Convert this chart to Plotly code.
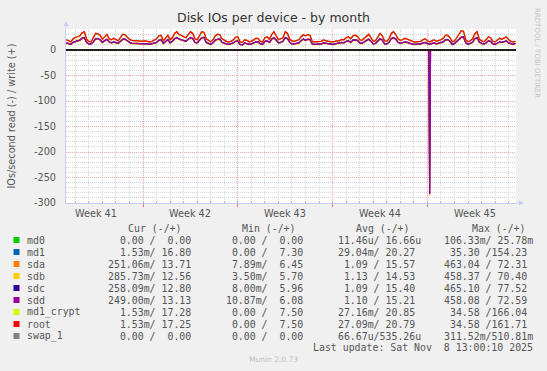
import plotly.graph_objects as go
import pandas as pd

# ---------------- data ----------------
TITLE = "Disk IOs per device - by month"
Y_TITLE = "IOs/second read (-) / write (+)"
names = ["md0", "md1", "sda", "sdb", "sdc", "sdd", "md1_crypt", "root", "swap_1"]
colors = ["#00CC00", "#0066B3", "#FF8000", "#FFCC00", "#330099", "#990099", "#CCFF00", "#FF0000", "#808080"]

X_START = "2025-10-06 07:30"
X_END = "2025-11-08 13:00"
WRITE_START = "2025-10-06 08:00"   # 4-hourly samples

root_write = [
    20, 18, 16, 22,
    25, 26, 28, 34, 36, 21,
    17, 16, 24, 33, 32, 29,
    21, 27, 31, 22, 20, 23,
    20, 18, 25, 31, 30, 26,
    21, 19, 19, 19, 18, 17,
    18, 18, 17, 16, 17, 19,
    22, 28, 29, 18, 24, 29,
    20, 24, 33, 36, 30, 29,
    26, 24, 30, 36, 33, 22,
    20, 28, 36, 35, 22, 19,
    16, 20, 28, 31, 30, 22,
    19, 17, 16, 17, 20, 25,
    26, 16, 15, 20, 19, 16,
    17, 20, 23, 23, 17, 16,
    24, 26, 21, 30, 36, 28,
    20, 22, 24, 36, 33, 21,
    18, 17, 18, 20, 26, 30,
    28, 30, 29, 17, 16, 16,
    16, 17, 20, 18, 17, 16,
    16, 17, 18, 18, 21, 20,
    24, 26, 22, 28, 29, 27,
    20, 19, 23, 28, 31, 24,
    17, 18, 26, 33, 28, 18,
    17, 22, 33, 36, 30, 22,
    19, 20, 23, 21, 19, 17,
    16, 16, 16, 17, 20, 22,
    18, 16, 18, 20, 17, 18,
    20, 23, 29, 29, 24, 16,
    18, 24, 32, 38, 37, 20,
    16, 18, 22, 32, 36, 21,
    18, 16, 20, 26, 24, 17,
    16, 20, 23, 21, 24, 26,
    20, 17, 16, 17,
]
md1_crypt_write = [
    20, 18, 16, 21,
    25, 26, 27, 34, 35, 21,
    17, 16, 24, 32, 32, 28,
    21, 26, 31, 22, 20, 22,
    20, 18, 24, 31, 30, 26,
    21, 19, 18, 19, 18, 17,
    18, 17, 17, 16, 17, 19,
    22, 27, 29, 18, 24, 28,
    20, 24, 32, 36, 30, 28,
    26, 24, 30, 35, 33, 22,
    20, 27, 36, 34, 22, 19,
    16, 20, 27, 31, 30, 22,
    19, 17, 16, 17, 19, 25,
    25, 16, 15, 20, 19, 16,
    17, 19, 23, 23, 17, 16,
    24, 25, 21, 30, 35, 28,
    20, 22, 24, 35, 33, 21,
    18, 17, 18, 20, 25, 30,
    28, 29, 29, 17, 16, 16,
    16, 17, 19, 18, 17, 16,
    16, 17, 18, 18, 20, 20,
    24, 25, 22, 28, 29, 26,
    20, 19, 23, 27, 31, 24,
    17, 18, 26, 32, 28, 18,
    17, 22, 32, 36, 30, 22,
    19, 20, 22, 21, 19, 17,
    16, 16, 16, 17, 19, 22,
    18, 16, 18, 20, 17, 18,
    20, 23, 28, 29, 24, 16,
    18, 24, 32, 37, 37, 20,
    16, 18, 22, 32, 35, 21,
    18, 16, 20, 25, 24, 17,
    16, 20, 23, 21, 24, 25,
    20, 17, 16, 17,
]
md1_write = [
    20, 18, 16, 21,
    25, 26, 27, 33, 35, 21,
    17, 16, 24, 32, 31, 28,
    21, 26, 30, 22, 20, 22,
    20, 18, 24, 30, 30, 26,
    21, 19, 18, 19, 18, 17,
    18, 17, 17, 16, 17, 19,
    22, 27, 28, 18, 24, 28,
    20, 24, 32, 35, 30, 28,
    26, 24, 30, 35, 32, 22,
    20, 27, 35, 34, 22, 19,
    16, 20, 27, 30, 30, 22,
    19, 17, 16, 17, 19, 25,
    25, 16, 15, 20, 19, 16,
    17, 19, 23, 22, 17, 16,
    24, 25, 21, 30, 35, 28,
    20, 22, 24, 35, 32, 21,
    18, 17, 18, 20, 25, 29,
    28, 29, 28, 17, 16, 16,
    16, 17, 19, 18, 17, 16,
    16, 17, 18, 18, 20, 20,
    24, 25, 22, 27, 29, 26,
    20, 19, 23, 27, 30, 24,
    17, 18, 26, 32, 28, 18,
    17, 22, 32, 35, 30, 22,
    19, 20, 22, 21, 19, 17,
    16, 16, 16, 17, 19, 22,
    18, 16, 18, 20, 17, 18,
    20, 23, 28, 28, 24, 16,
    18, 24, 31, 37, 36, 20,
    16, 18, 22, 31, 35, 21,
    18, 16, 20, 25, 24, 17,
    16, 20, 23, 21, 24, 25,
    20, 17, 16, 17,
]
sdd_write = [
    14, 13, 11, 15,
    17, 18, 19, 23, 24, 15,
    12, 12, 16, 22, 22, 20,
    15, 18, 21, 16, 14, 16,
    14, 13, 17, 21, 21, 18,
    15, 13, 13, 13, 13, 12,
    13, 13, 12, 11, 12, 13,
    15, 19, 20, 13, 17, 20,
    14, 17, 22, 24, 21, 20,
    18, 17, 21, 24, 22, 15,
    14, 19, 24, 24, 15, 13,
    11, 14, 19, 21, 21, 15,
    13, 12, 11, 12, 14, 17,
    18, 11, 10, 14, 13, 11,
    12, 14, 16, 16, 12, 11,
    17, 18, 15, 21, 24, 19,
    14, 15, 17, 24, 22, 15,
    12, 12, 13, 14, 18, 21,
    19, 21, 20, 12, 11, 11,
    11, 12, 14, 13, 12, 11,
    11, 12, 13, 13, 15, 14,
    17, 18, 15, 19, 20, 19,
    14, 13, 16, 19, 21, 17,
    12, 13, 18, 22, 19, 12,
    12, 15, 22, 24, 21, 15,
    13, 14, 16, 15, 13, 12,
    11, 11, 11, 12, 14, 15,
    13, 11, 13, 14, 12, 13,
    14, 16, 20, 20, 17, 11,
    13, 17, 22, 25, 25, 14,
    11, 13, 15, 22, 24, 15,
    13, 11, 14, 18, 17, 12,
    11, 14, 16, 15, 17, 18,
    14, 12, 11, 13,
]
sda_write = [
    14, 13, 12, 15,
    17, 18, 20, 23, 25, 15,
    12, 12, 16, 23, 22, 20,
    15, 19, 21, 16, 14, 16,
    14, 13, 17, 22, 21, 18,
    15, 13, 13, 14, 13, 12,
    13, 13, 12, 11, 12, 14,
    15, 19, 21, 13, 17, 20,
    14, 17, 23, 25, 21, 20,
    18, 17, 21, 25, 22, 15,
    14, 19, 25, 24, 15, 13,
    11, 14, 20, 21, 21, 15,
    13, 12, 11, 12, 14, 18,
    18, 11, 10, 14, 13, 11,
    12, 14, 16, 17, 12, 11,
    17, 18, 15, 22, 25, 19,
    14, 15, 17, 25, 22, 15,
    12, 12, 13, 14, 18, 21,
    19, 22, 20, 12, 11, 11,
    11, 12, 14, 13, 12, 11,
    11, 12, 13, 13, 15, 14,
    17, 19, 15, 19, 21, 19,
    14, 13, 16, 20, 22, 17,
    12, 13, 18, 23, 19, 12,
    12, 15, 23, 25, 21, 15,
    13, 14, 16, 15, 13, 12,
    11, 11, 11, 12, 14, 15,
    13, 11, 13, 14, 12, 13,
    14, 16, 21, 20, 17, 11,
    13, 17, 23, 26, 25, 14,
    11, 13, 15, 23, 25, 15,
    13, 11, 14, 18, 17, 12,
    11, 14, 16, 15, 17, 18,
    14, 12, 11, 14,
]
sdb_write = [
    13, 12, 10, 14,
    16, 17, 18, 22, 23, 14,
    11, 11, 15, 21, 21, 19,
    14, 17, 20, 15, 13, 15,
    13, 12, 16, 20, 20, 17,
    14, 12, 12, 12, 12, 11,
    12, 12, 11, 10, 11, 12,
    14, 18, 19, 12, 16, 19,
    13, 16, 21, 23, 20, 19,
    17, 16, 20, 23, 21, 14,
    13, 18, 23, 23, 14, 12,
    10, 13, 18, 20, 20, 14,
    12, 11, 10, 11, 13, 16,
    17, 10, 9, 13, 12, 10,
    11, 13, 15, 15, 11, 10,
    16, 17, 14, 20, 23, 18,
    13, 14, 16, 23, 21, 14,
    11, 11, 12, 13, 17, 20,
    18, 20, 19, 11, 10, 10,
    10, 11, 13, 12, 11, 10,
    10, 11, 12, 12, 14, 13,
    16, 17, 14, 18, 19, 18,
    13, 12, 15, 18, 20, 16,
    11, 12, 17, 21, 18, 11,
    11, 14, 21, 23, 20, 14,
    12, 13, 15, 14, 12, 11,
    10, 10, 10, 11, 13, 14,
    12, 10, 12, 13, 11, 12,
    13, 15, 19, 19, 16, 10,
    12, 16, 21, 24, 24, 13,
    10, 12, 14, 21, 23, 14,
    12, 10, 13, 17, 16, 11,
    10, 13, 15, 14, 16, 17,
    13, 11, 10, 13,
]
sdc_write = [
    14, 13, 11, 15,
    17, 18, 19, 24, 24, 15,
    12, 12, 16, 22, 23, 20,
    15, 18, 21, 16, 14, 16,
    14, 13, 17, 21, 22, 18,
    15, 13, 13, 13, 13, 12,
    13, 13, 12, 11, 12, 13,
    15, 19, 20, 13, 17, 21,
    14, 17, 22, 24, 22, 20,
    18, 17, 21, 24, 23, 15,
    14, 19, 24, 25, 15, 13,
    11, 14, 19, 21, 22, 15,
    13, 12, 11, 12, 14, 17,
    18, 11, 10, 14, 13, 11,
    12, 14, 16, 16, 12, 11,
    17, 18, 15, 21, 24, 20,
    14, 15, 17, 24, 23, 15,
    12, 12, 13, 14, 18, 22,
    19, 21, 21, 12, 11, 11,
    11, 12, 14, 13, 12, 11,
    11, 12, 13, 13, 15, 14,
    17, 18, 15, 20, 20, 19,
    14, 13, 16, 19, 21, 17,
    12, 13, 18, 22, 20, 12,
    12, 15, 22, 24, 22, 15,
    13, 14, 16, 15, 13, 12,
    11, 11, 11, 12, 14, 15,
    13, 11, 13, 14, 12, 13,
    14, 16, 20, 21, 17, 11,
    13, 17, 22, 25, 26, 14,
    11, 13, 15, 22, 24, 16,
    13, 11, 14, 18, 17, 12,
    11, 14, 16, 15, 17, 18,
    14, 12, 11, 13,
]

# read side (sparse samples; ~0 except the Nov 2 burst)
read_times = ["2025-10-06 07:30", "2025-11-02 02:30", "2025-11-02 04:00",
              "2025-11-02 05:30", "2025-11-08 13:00"]
md0_read = [0, 0, 0, 0, 0]
md1_read = [0, 0, -1, 0, 0]
sda_read = [-0.3, -0.3, -285, -0.3, -0.25]
sdb_read = [-0.3, -0.3, -279, -0.3, -0.29]
sdc_read = [-0.3, -0.3, -282, -0.3, -0.26]
sdd_read = [-0.3, -0.3, -281, -0.3, -0.25]
md1_crypt_read = [0, 0, -1, 0, 0]
root_read = [0, 0, -1, 0, 0]
swap_read = [0, 0, 0, 0, 0]
md0_write = [0, 0, 0, 0, 0]
swap_write = [0, 0, 0, 0, 0]

week_bounds = ["2025-10-12", "2025-10-19", "2025-10-26", "2025-11-02"]
week_label_pos = ["2025-10-08 12:00", "2025-10-15 12:00", "2025-10-22 12:00",
                  "2025-10-29 12:00", "2025-11-05 12:00"]
week_labels = ["Week 41", "Week 42", "Week 43", "Week 44", "Week 45"]
y_ticks = [0, -50, -100, -150, -200, -250, -300]

cur_read = ["0.00", "1.53m", "251.06m", "285.73m", "258.09m", "249.00m", "1.53m", "1.53m", "0.00"]
cur_write = ["0.00", "16.80", "13.71", "12.56", "12.80", "13.13", "17.28", "17.25", "0.00"]
min_read = ["0.00", "0.00", "7.89m", "3.50m", "8.00m", "10.87m", "0.00", "0.00", "0.00"]
min_write = ["0.00", "7.30", "6.45", "5.70", "5.96", "6.08", "7.50", "7.50", "0.00"]
avg_read = ["11.46u", "29.04m", "1.09", "1.13", "1.09", "1.10", "27.16m", "27.09m", "66.67u"]
avg_write = ["16.66u", "20.27", "15.57", "14.53", "15.40", "15.21", "20.85", "20.79", "535.26u"]
max_read = ["106.33m", "35.30", "463.04", "458.37", "465.10", "458.08", "34.58", "34.58", "311.52m"]
max_write = ["25.78m", "154.23", "72.31", "70.40", "77.52", "72.59", "166.04", "161.71", "510.81m"]
col_headers = ["Cur (-/+)", "Min (-/+)", "Avg (-/+)", "Max (-/+)"]
LAST_UPDATE = "Last update: Sat Nov  8 13:00:10 2025"
FOOTER = "Munin 2.0.73"
WATERMARK = "RRDTOOL / TOBI OETIKER"

# ---------------- figure ----------------
W, H = 547, 371
L, R, T, B = 66, 516, 29, 203
Y_MIN, Y_MAX = -300, 41.2

def px_x(px):
    return (px - L) / (R - L)

def px_y(py):
    return (B - py) / (B - T)

write_x = pd.date_range(WRITE_START, periods=len(root_write), freq="4h")
writes = {
    "md0": (read_times, md0_write),
    "md1": (write_x, md1_write),
    "sda": (write_x, sda_write),
    "sdb": (write_x, sdb_write),
    "sdc": (write_x, sdc_write),
    "sdd": (write_x, sdd_write),
    "md1_crypt": (write_x, md1_crypt_write),
    "root": (write_x, root_write),
    "swap_1": (read_times, swap_write),
}
reads = {
    "md0": md0_read, "md1": md1_read, "sda": sda_read, "sdb": sdb_read,
    "sdc": sdc_read, "sdd": sdd_read, "md1_crypt": md1_crypt_read,
    "root": root_read, "swap_1": swap_read,
}

fig = go.Figure()
for n, c in zip(names, colors):
    fig.add_trace(go.Scatter(x=read_times, y=reads[n], mode="lines",
                             line=dict(color=c, width=1.2), hoverinfo="skip", showlegend=False))
    wx, wy = writes[n]
    fig.add_trace(go.Scatter(x=wx, y=wy, mode="lines",
                             line=dict(color=c, width=1.2), hoverinfo="skip", showlegend=False))

AXIS_COL = "#C8CCF4"
MGRID = "#F2A6A6"
GRID = "#D6D6D6"
TXT = "#555555"
SANS = "DejaVu Sans"
MONO = "DejaVu Sans Mono"

fig.update_layout(
    width=W, height=H,
    margin=dict(l=L, r=W - R, t=T, b=H - B, pad=0),
    paper_bgcolor="#F0F0F0", plot_bgcolor="#FFFFFF",
    showlegend=False, hovermode=False,
    xaxis=dict(
        type="date", range=[X_START, X_END],
        tickmode="array", tickvals=week_bounds, showticklabels=False,
        ticks="outside", ticklen=3, tickcolor="#E87070", tickwidth=1,
        showgrid=True, gridcolor=MGRID, griddash="1px,1px", gridwidth=1,
        showline=True, linecolor=AXIS_COL, linewidth=1, zeroline=False,
        minor=dict(tickmode="linear", tick0="2025-10-12", dtick=86400000,
                   showgrid=True, gridcolor=GRID, griddash="1px,1px", gridwidth=1,
                   ticks="inside", ticklen=2, tickcolor="#B0B0B0"),
    ),
    yaxis=dict(
        range=[Y_MIN, Y_MAX],
        tickmode="array", tickvals=y_ticks, ticktext=[str(v) for v in y_ticks],
        ticks="", tickfont=dict(family=SANS, size=9.7, color=TXT),
        ticklabelstandoff=7,
        showgrid=True, gridcolor=MGRID, griddash="1px,1px", gridwidth=1,
        showline=True, linecolor=AXIS_COL, linewidth=1, zeroline=False,
        minor=dict(tickmode="linear", tick0=0, dtick=10,
                   showgrid=True, gridcolor=GRID, griddash="1px,1px", gridwidth=1),
    ),
)

shapes = [dict(type="line", xref="paper", x0=0, x1=1, yref="y", y0=0, y1=0,
               line=dict(color="#000000", width=1.6), layer="above")]
ann = []

def text_ann(txt, x, y, size, color=TXT, family=SANS, xanchor="center", angle=0):
    ann.append(dict(text=txt.replace(" ", "\u00a0"), x=px_x(x), y=px_y(y), xref="paper", yref="paper",
                    showarrow=False, xanchor=xanchor, yanchor="middle", textangle=angle,
                    borderpad=0, font=dict(family=family, size=size, color=color)))

# title, axis title, watermarks
text_ann(TITLE, 273.5, 18, 12.5, color="#333333")
text_ann(Y_TITLE, 10.5, 116, 9.7, angle=-90)
text_ann(WATERMARK, 537, 53, 7, color="#C4C4C4", angle=90)
text_ann(FOOTER, 273, 359, 7.5, color="#BDBDBD")

# week labels placed through the x scale
for pos, lab in zip(week_label_pos, week_labels):
    ann.append(dict(text=lab, x=pos, xref="x", y=px_y(213), yref="paper", showarrow=False,
                    xanchor="center", yanchor="middle", borderpad=0,
                    font=dict(family=SANS, size=9.7, color=TXT)))

# axis arrows
ann.append(dict(text="", x=px_x(L), y=px_y(21), xref="paper", yref="paper", showarrow=True,
                ax=0, ay=9, arrowhead=2, arrowsize=1, arrowwidth=1, arrowcolor=AXIS_COL))
ann.append(dict(text="", x=px_x(524), y=px_y(B), xref="paper", yref="paper", showarrow=True,
                ax=-9, ay=0, arrowhead=2, arrowsize=1, arrowwidth=1, arrowcolor=AXIS_COL))

# legend table
def fmt(s):
    return (s if s[-1].isalpha() else s + " ").rjust(7)

col_end = [197.5, 310, 421.5, 533.5]
head_end = [182.5, 296.5, 411, 526.5]
cols = [(cur_read, cur_write), (min_read, min_write), (avg_read, avg_write), (max_read, max_write)]
for h, he in zip(col_headers, head_end):
    text_ann(h, he, 228, 9.9, family=MONO, xanchor="right")
for i, (n, c) in enumerate(zip(names, colors)):
    y = 240 + 12 * i
    shapes.append(dict(type="rect", xref="paper", yref="paper",
                       x0=px_x(13.5), x1=px_x(19.5), y0=px_y(y + 3), y1=px_y(y - 3),
                       fillcolor=c, line=dict(width=0)))
    text_ann(n, 26, y, 9.9, family=MONO, xanchor="left")
    for (rd, wr), ce in zip(cols, col_end):
        text_ann(fmt(rd[i]) + "/" + fmt(wr[i]), ce, y, 9.9, family=MONO, xanchor="right")
text_ann(LAST_UPDATE, 533.5, 347.5, 9.9, family=MONO, xanchor="right")

fig.update_layout(shapes=shapes, annotations=ann)

fig.write_html("out.html", config={"displayModeBar": False, "staticPlot": True},
               post_script="document.body.style.margin='0';document.body.style.overflow='hidden';")
